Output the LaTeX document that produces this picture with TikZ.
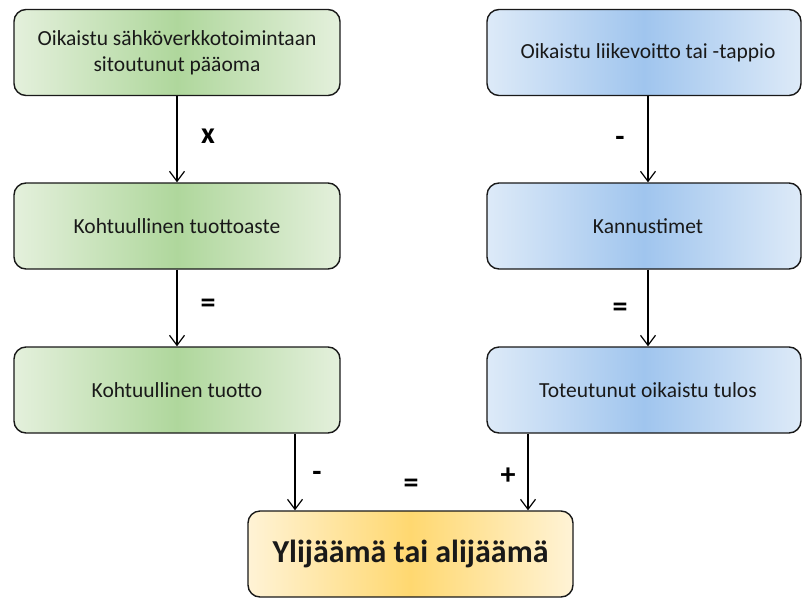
\documentclass[tikz,border=0pt]{standalone}
\usepackage{fontspec}
\setmainfont{Carlito}
\usetikzlibrary{arrows.meta}
\definecolor{gE}{HTML}{E4F0DC}
\definecolor{gC}{HTML}{AFD79C}
\definecolor{bE}{HTML}{DDEAF8}
\definecolor{bC}{HTML}{A0C5EE}
\definecolor{oE}{HTML}{FFF3D6}
\definecolor{oC}{HTML}{FFD870}
\tikzset{
  boxbase/.style={draw=black!90, line width=1.4pt, rounded corners=12pt, inner sep=0pt,
    minimum height=86pt, align=center, font=\fontsize{21.5}{26}\selectfont, text=black!90},
  gbox/.style={boxbase, minimum width=326pt, left color=gE, right color=gE, middle color=gC},
  bbox/.style={boxbase, minimum width=314pt, left color=bE, right color=bE, middle color=bC},
  obox/.style={boxbase, minimum width=325pt, left color=oE, right color=oE, middle color=oC,
    font=\fontsize{32}{38}\selectfont\bfseries},
  arr/.style={line width=1.2pt, -{Straight Barb[length=10pt,width=15pt,line width=1.2pt]}},
  op/.style={font=\fontsize{30}{34}\selectfont\bfseries, text=black}
}
\begin{document}
\begin{tikzpicture}[x=1pt,y=-1pt]
\useasboundingbox (0,0) rectangle (802,597);
\clip (0,0) rectangle (802,597);
\node[gbox] (L1) at (177,52.5) {Oikaistu sähköverkkotoimintaan\\sitoutunut pääoma};
\node[gbox] (L2) at (177,226) {Kohtuullinen tuottoaste};
\node[gbox] (L3) at (177,390) {Kohtuullinen tuotto};
\node[bbox] (R1) at (644,52.5) {\hspace*{8pt}Oikaistu liikevoitto tai -tappio};
\node[bbox] (R2) at (644,226) {\hspace*{8pt}Kannustimet};
\node[bbox] (R3) at (644,390) {\hspace*{8pt}Toteutunut oikaistu tulos};
\node[obox] (B) at (410.5,554) {Ylijäämä tai alijäämä};
\draw[arr] (L1.south) -- (L2.north);
\draw[arr] (L2.south) -- (L3.north);
\draw[arr] ([xshift=4pt]R1.south) -- ([xshift=4pt]R2.north);
\draw[arr] ([xshift=4pt]R2.south) -- ([xshift=4pt]R3.north);
\draw[arr] (L3.south -| 295,0) -- (B.north -| 295,0);
\draw[arr] (R3.south -| 528,0) -- (B.north -| 528,0);
\node[op] (o1) at (208,136) {x};
\node[op] (o2) at (620,141) {-};
\node[op] (o3) at (208,306) {=};
\node[op] (o4) at (620,310) {=};
\node[op] (o5) at (317,476) {-};
\node[op] (o6) at (411,486) {=};
\node[op] (o7) at (508,476) {+};
\end{tikzpicture}
\end{document}
